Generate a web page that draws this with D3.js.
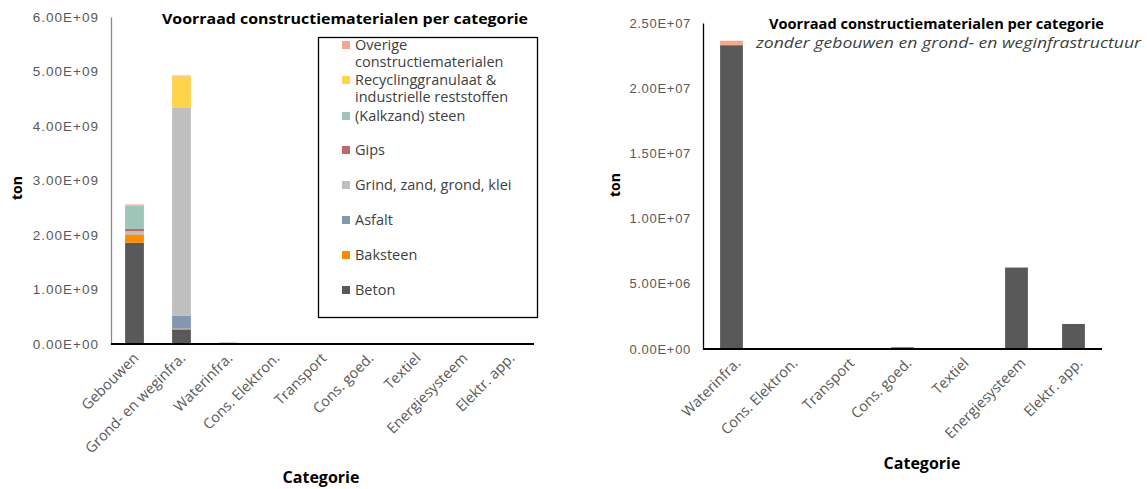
<!DOCTYPE html>
<html><head><meta charset="utf-8">
<script src="https://cdn.jsdelivr.net/npm/d3@7"></script>
<style>body{margin:0;background:#fff}svg{display:block}</style>
</head><body>
<svg id="c" width="1147" height="489"></svg>
<script>
const categories = ["Gebouwen","Grond- en weginfra.","Waterinfra.","Cons. Elektron.","Transport","Cons. goed.","Textiel","Energiesysteem","Elektr. app."];
const seriesNames = ["Beton","Baksteen","Asfalt","Grind, zand, grond, klei","Gips","(Kalkzand) steen","Recyclinggranulaat & industrielle reststoffen","Overige constructiematerialen"];
const seriesColors = ["#595959","#FF8C00","#8497B0","#BFBFBF","#C0676C","#9FC4B8","#FFD34A","#F4A98C"];
const beton     = [1.86e9, 2.57e8, 2.33e7, 0, 0, 1.3e5, 0, 6.25e6, 1.92e6];
const baksteen  = [1.5e8, 2.5e7, 0, 0, 0, 0, 0, 0, 0];
const asfalt    = [5e6, 2.4e8, 0, 0, 0, 0, 0, 0, 0];
const grind     = [5.5e7, 3.82e9, 0, 0, 0, 0, 0, 0, 0];
const gips      = [4e7, 0, 0, 0, 0, 0, 0, 0, 0];
const kalkzand  = [4.3e8, 0, 0, 0, 0, 0, 0, 0, 0];
const recycling = [0, 5.7e8, 0, 0, 0, 0, 0, 0, 0];
const overige   = [2e7, 1.5e7, 3.4e5, 0, 0, 0, 0, 4e4, 0];
const leftTicks = [0,1e9,2e9,3e9,4e9,5e9,6e9];
const rightTicks = [0,5e6,1e7,1.5e7,2e7,2.5e7];
const rightCategories = categories.slice(2);

const seriesValues = [beton,baksteen,asfalt,grind,gips,kalkzand,recycling,overige];
const rows = categories.map((c,i)=>{const r={cat:c};seriesNames.forEach((s,j)=>r[s]=seriesValues[j][i]);return r;});
const stacked = d3.stack().keys(seriesNames)(rows);

const svg = d3.select("#c");
const fmt = v => { if(v===0) return "0.00E+00"; const e=Math.floor(Math.log10(v)); const m=v/Math.pow(10,e); return m.toFixed(2)+"E+"+String(e).padStart(2,"0"); };
const tickFont = "'Liberation Sans', Arial, sans-serif";
const headFont = "'Open Sans', 'Noto Sans', sans-serif";

function drawChart(cfg){
  const g = svg.append("g");
  const x = d3.scaleBand().domain(cfg.cats).range([cfg.x0,cfg.x1]).paddingInner(cfg.pad).paddingOuter(cfg.pad/2);
  const y = d3.scaleLinear().domain([0,cfg.max]).range([cfg.y0,cfg.y1]);
  stacked.forEach((layer,j)=>{
    g.append("g").selectAll("rect").data(layer.filter(d=>cfg.cats.includes(d.data.cat)))
      .join("rect")
      .attr("x",d=>x(d.data.cat)).attr("width",x.bandwidth())
      .attr("y",d=>y(d[1])).attr("height",d=>Math.max(0,y(d[0])-y(d[1])))
      .attr("fill",seriesColors[j]);
  });
  const ya = d3.axisLeft(y).tickValues(cfg.ticks).tickFormat(fmt).tickSize(0).tickPadding(12);
  const yg = g.append("g").attr("transform",`translate(${cfg.x0},0)`).call(ya);
  yg.select(".domain").attr("stroke",cfg.yAxisColor).attr("stroke-width",1.3);
  yg.selectAll("text").attr("font-family",tickFont).attr("font-size",cfg.tickSize).attr("fill","#595959").attr("letter-spacing",cfg.tickLS);
  const xa = d3.axisBottom(x).tickSize(0).tickPadding(0);
  const xg = g.append("g").attr("transform",`translate(0,${cfg.y0})`).call(xa);
  xg.select(".domain").attr("stroke","#000").attr("stroke-width",1.8).attr("d",`M${cfg.x0},0H${cfg.x1}`);
  xg.selectAll(".tick text")
    .attr("font-family",headFont).attr("font-size",14.5).attr("fill","#595959")
    .attr("text-anchor","end").attr("dy",0).attr("y",0)
    .attr("transform",`translate(${cfg.lblDx},${cfg.lblDy}) rotate(-45)`);
  g.append("text").attr("transform",`translate(${cfg.yTitleX},${cfg.yTitleY}) rotate(-90)`)
    .attr("text-anchor","middle").attr("font-family",headFont).attr("font-weight",700).attr("font-size",14).text("ton");
  g.append("text").attr("x",cfg.xTitleX).attr("y",cfg.xTitleY)
    .attr("text-anchor","middle").attr("font-family",headFont).attr("font-weight",700).attr("font-size",16).text("Categorie");
  return {x,y,g};
}

const L = drawChart({cats:categories,x0:111,x1:534,y0:344,y1:17,max:6e9,ticks:leftTicks,pad:0.6,yAxisColor:"#8a8a8a",tickSize:13.5,tickLS:"1px",lblDx:5,lblDy:15,yTitleX:22,yTitleY:188,xTitleX:321,xTitleY:483});
L.g.append("text").attr("x",528).attr("y",24).attr("text-anchor","end").attr("font-family",headFont).attr("font-weight",700).attr("font-size",14)
  .attr("textLength",366).attr("lengthAdjust","spacingAndGlyphs").text("Voorraad constructiematerialen per categorie");

const lg = L.g.append("g");
lg.append("rect").attr("x",318.5).attr("y",37.5).attr("width",219).attr("height",280).attr("fill","#fff").attr("stroke","#000").attr("stroke-width",1.3);
const legendItems = [
  {i:7, lines:["Overige","constructiematerialen"], y:45},
  {i:6, lines:["Recyclinggranulaat &","industrielle reststoffen"], y:80},
  {i:5, lines:["(Kalkzand) steen"], y:116},
  {i:4, lines:["Gips"], y:150},
  {i:3, lines:["Grind, zand, grond, klei"], y:185},
  {i:2, lines:["Asfalt"], y:220},
  {i:1, lines:["Baksteen"], y:255},
  {i:0, lines:["Beton"], y:290}
];
legendItems.forEach(it=>{
  lg.append("rect").attr("x",342).attr("y",it.y-4).attr("width",8).attr("height",8).attr("fill",seriesColors[it.i]);
  const t = lg.append("text").attr("font-family",headFont).attr("font-size",14.5).attr("fill","#404040");
  it.lines.forEach((ln,k)=>t.append("tspan").attr("x",355).attr("y",it.y+5+k*17).text(ln));
});

const R = drawChart({cats:rightCategories,x0:703,x1:1102,y0:349,y1:23,max:2.5e7,ticks:rightTicks,pad:0.6,yAxisColor:"#000",tickSize:13,tickLS:"0.7px",lblDx:10,lblDy:15,yTitleX:620,yTitleY:185,xTitleX:922,xTitleY:469});
R.g.append("text").attr("x",1104).attr("y",29).attr("text-anchor","end").attr("font-family",headFont).attr("font-weight",700).attr("font-size",13.5)
  .attr("textLength",335).attr("lengthAdjust","spacingAndGlyphs").text("Voorraad constructiematerialen per categorie");
R.g.append("text").attr("x",1141).attr("y",48).attr("text-anchor","end").attr("font-family",headFont).attr("font-style","italic").attr("font-size",14.5).attr("fill","#404040")
  .attr("textLength",385).attr("lengthAdjust","spacingAndGlyphs").text("zonder gebouwen en grond- en weginfrastructuur");
</script>
</body></html>
